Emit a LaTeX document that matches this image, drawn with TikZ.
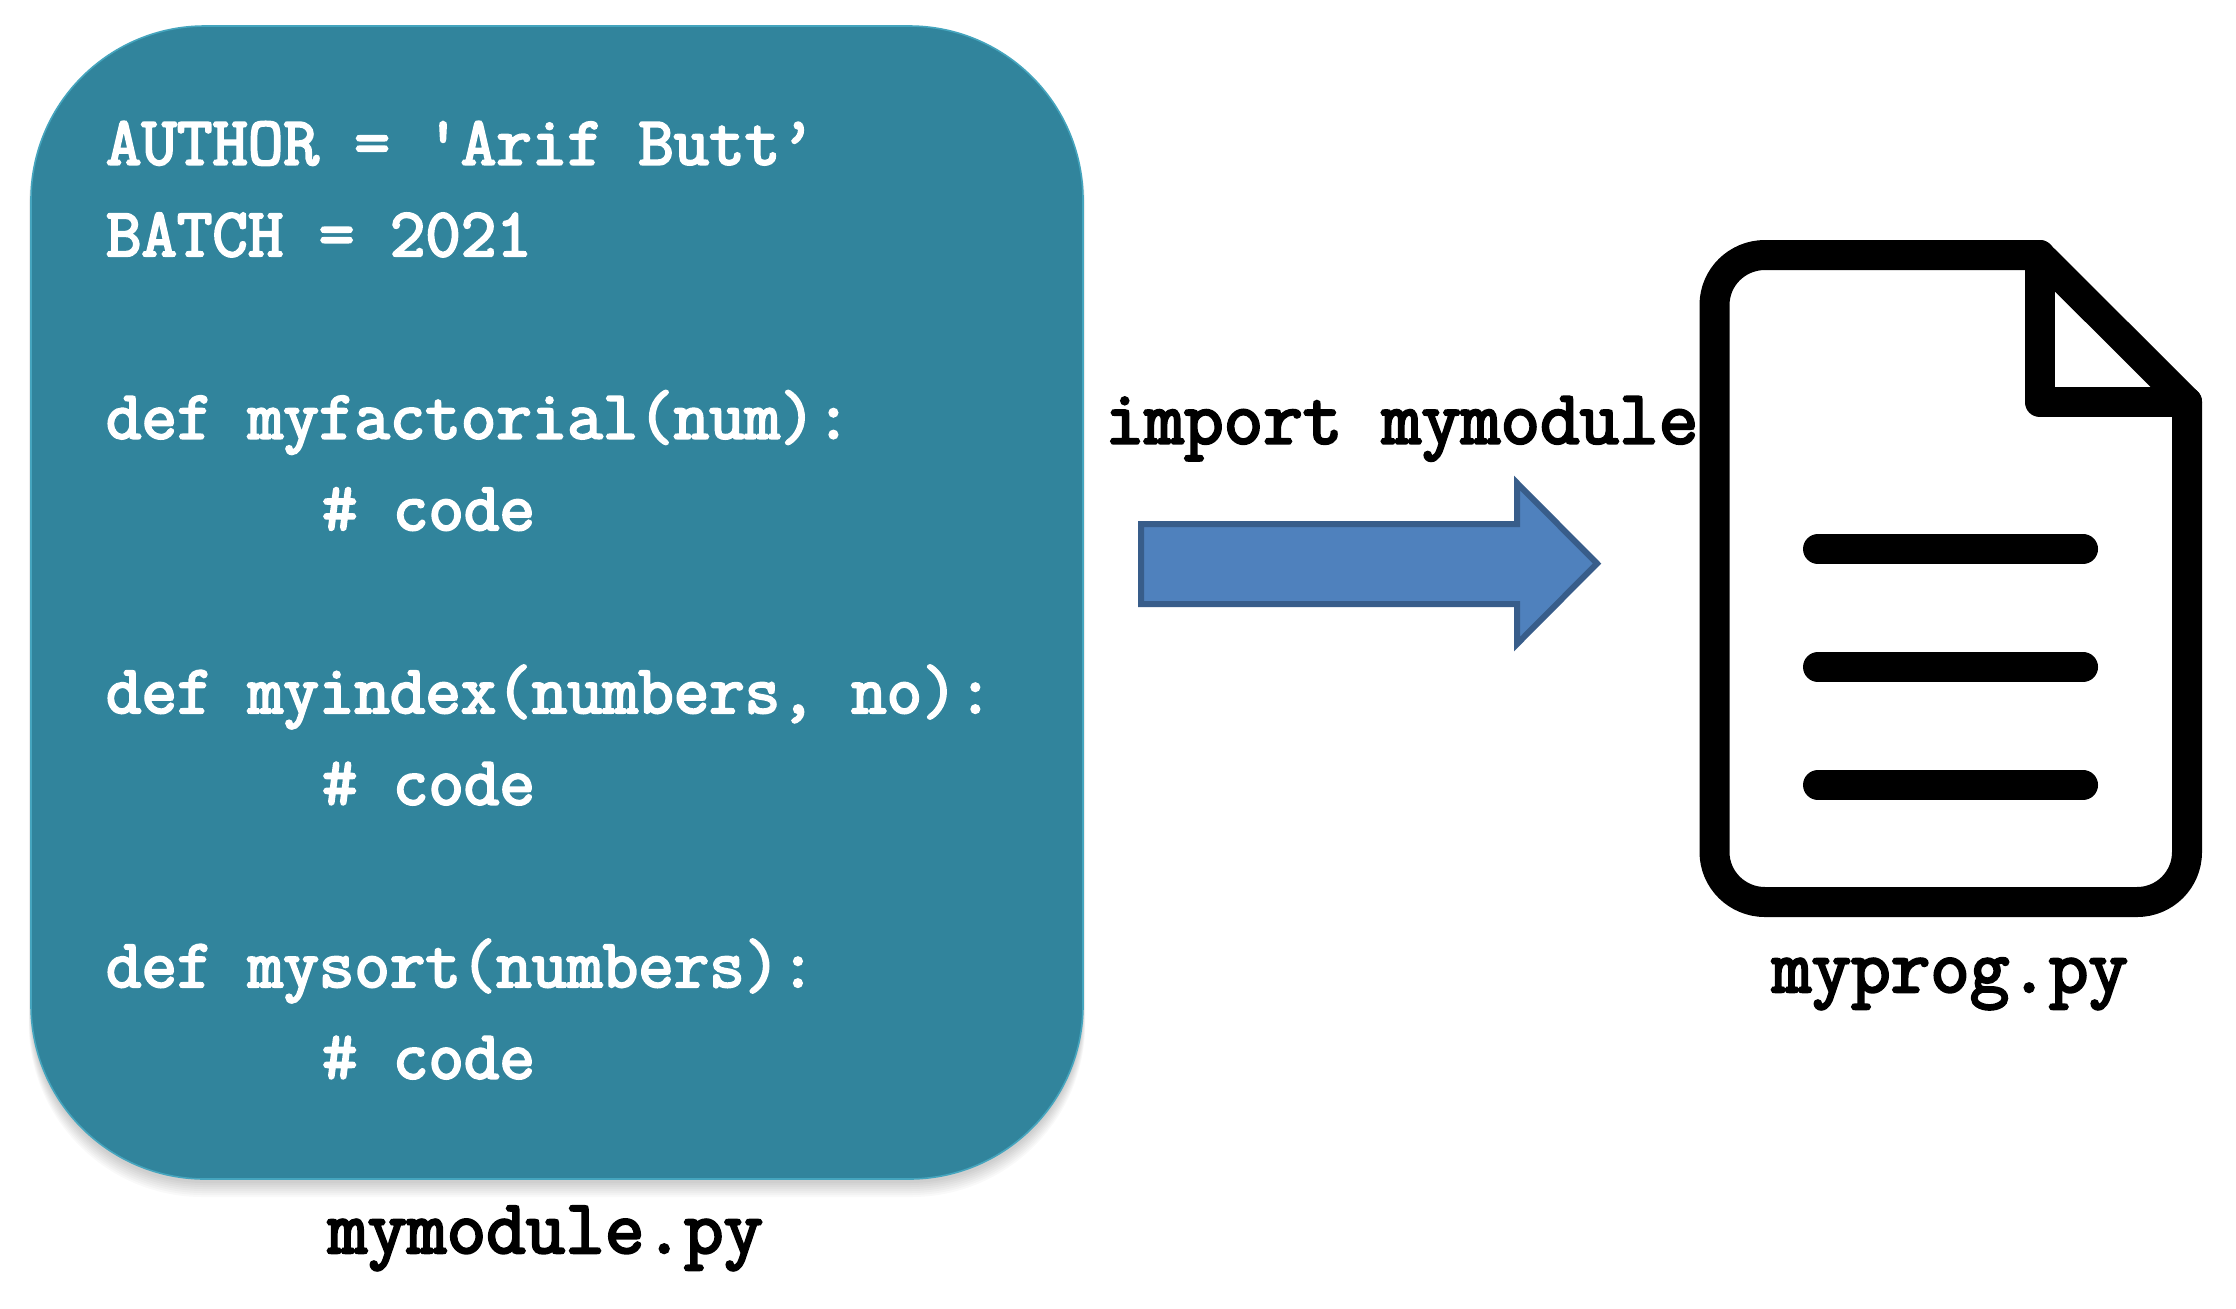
\documentclass[tikz,border=0pt]{standalone}
\usepackage{fontspec}
\newfontfamily\slabbold{Latin Modern Mono}[FakeBold=3.2]
\tikzset{
  code/.style={anchor=base west,inner sep=0pt,outer sep=0pt,text=white,font=\fontsize{34.45}{40}\slabbold},
  caption/.style={anchor=base west,inner sep=0pt,outer sep=0pt,text=black,font=\fontsize{38.4}{44}\slabbold},
  modulebox/.style={fill=boxteal,draw=boxedge,line width=0.8pt,rounded corners=87pt},
  shadowlayer/.style={fill=black,opacity=0.025,rounded corners=87pt},
  blockarrow/.style={fill=arrowfill,draw=arrowedge,line width=3pt,line join=miter},
  docline/.style={draw=black,line width=15pt,line cap=round,line join=round},
}
\definecolor{boxteal}{HTML}{31849C}
\definecolor{boxedge}{HTML}{45A5BE}
\definecolor{arrowfill}{HTML}{4F81BD}
\definecolor{arrowedge}{HTML}{385D8A}
\begin{document}
\begin{tikzpicture}[x=0.5pt,y=-0.5pt]
\useasboundingbox (0,0) rectangle (2236,1308);
\fill[white] (0,0) rectangle (2236,1308);
% soft shadow
\foreach \d in {1,3,...,15}{
  \fill[shadowlayer] (31-\d*0.15,32) rectangle (1083+\d*0.15,1179+3+\d);
}
% module box
\draw[modulebox] (31,26) rectangle (1083,1179);
\node[code] (l1) at (106,164.5) {AUTHOR = 'Arif Butt’};
\node[code] (l2) at (106,256) {BATCH = 2021};
\node[code] (l3) at (106,438.5) {def myfactorial(num):};
\node[code] (l4) at (322,530) {\# code};
\node[code] (l5) at (106,713) {def myindex(numbers, no):};
\node[code] (l6) at (322,804.5) {\# code};
\node[code] (l7) at (106,987) {def mysort(numbers):};
\node[code] (l8) at (322,1078.5) {\# code};
\node[caption] (modname) at (328,1253) {mymodule.py};
\node[caption] (imp) at (1105,443.5) {import mymodule};
\node[caption] (progname) at (1772,992) {myprog.py};
% block arrow
\draw[blockarrow] (1141,524) -- (1517,524) -- (1517,483) -- (1597,563.5) -- (1517,644) -- (1517,604) -- (1141,604) -- cycle;
% document icon
\draw[docline] (2039.5,255) -- (1765,255) to[out=180,in=90] (1714.5,305) -- (1714.5,852) to[out=-90,in=180] (1765,902) -- (2137,902) to[out=0,in=-90] (2187,852) -- (2187,402) -- cycle;
\draw[docline] (2039.5,255) -- (2039.5,402) -- (2187,402);
\draw[docline] (1818,549) -- (2083,549);
\draw[docline] (1818,667) -- (2083,667);
\draw[docline] (1818,785) -- (2083,785);
\end{tikzpicture}
\end{document}
